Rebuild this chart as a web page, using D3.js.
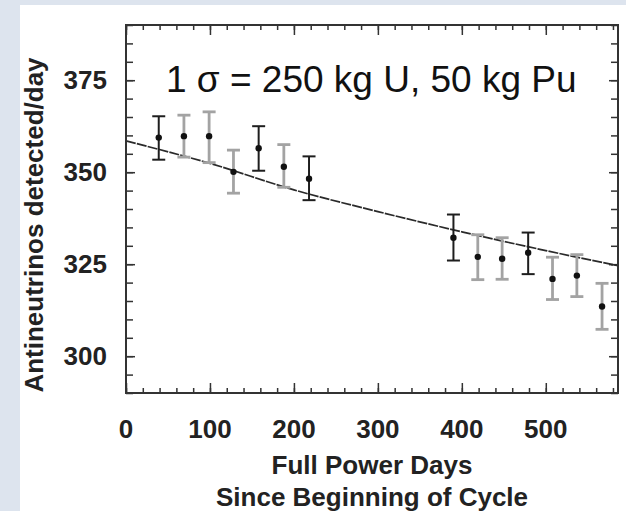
<!DOCTYPE html>
<html>
<head>
<meta charset="utf-8">
<script src="https://cdn.jsdelivr.net/npm/d3@7"></script>
<style>
    html, body { margin: 0; padding: 0; background: #dde4ee; }
    #chart { width: 626px; height: 511px; }
    text { font-family: "Liberation Sans", Arial, sans-serif; }
</style>
</head>
<body>
<div id="chart"></div>
<script>
// values
const days = [39, 69, 99, 128, 158, 188, 218, 390, 419, 448, 479, 508, 537, 567];
const counts = [359.4, 359.8, 359.8, 350.1, 356.5, 351.5, 348.2, 332.2, 327.0, 326.5, 328.1, 321.0, 321.9, 313.5];
const errHigh = [365.2, 365.5, 366.4, 356.0, 362.5, 357.5, 354.3, 338.5, 333.0, 332.2, 333.6, 326.9, 327.6, 319.8];
const errLow = [353.4, 354.1, 352.6, 344.3, 350.4, 345.9, 342.4, 326.0, 320.8, 320.9, 322.3, 315.4, 316.2, 307.3];
const barGroup = ["a", "b", "b", "b", "a", "b", "a", "a", "b", "b", "a", "b", "b", "b"];

const fitDays = [0, 100, 200, 300, 400, 500, 586];
const fitCounts = [358.5, 352.4, 345.2, 339.3, 333.8, 328.7, 324.6];

const xTickLabels = [0, 100, 200, 300, 400, 500];
const yTickLabels = [300, 325, 350, 375];
const note = "1 \u03c3 = 250 kg U, 50 kg Pu";

const W = 626, H = 511;
const margin = { top: 25, right: 8, bottom: 118, left: 126 };
const innerW = W - margin.left - margin.right;
const innerH = H - margin.top - margin.bottom;

const svg = d3.select("#chart").append("svg")
    .attr("width", W)
    .attr("height", H);

// white panel over the bluish page
svg.append("rect")
    .attr("x", 20).attr("y", 5)
    .attr("width", W - 20).attr("height", H - 5)
    .attr("fill", "#fff");

const g = svg.append("g").attr("transform", `translate(${margin.left},${margin.top})`);

const x = d3.scaleLinear().domain([0, 586]).range([0, innerW]);
const y = d3.scaleLinear().domain([290, 390]).range([innerH, 0]);
const shade = d3.scaleOrdinal().domain(["a", "b"]).range(["#1e1e1e", "#a3a3a3"]);

// ticks all point inward, on all four sides
const minorX = d3.range(0, 586, 20);
const minorY = d3.range(290, 391, 5);

function tickAxis(axisFn, scale, values, size, transform) {
    const a = g.append("g")
        .attr("transform", transform)
        .call(axisFn(scale).tickValues(values).tickSize(-size).tickFormat(""));
    a.select(".domain").remove();
    a.selectAll("line").attr("stroke", "#333").attr("stroke-width", 1.5);
    return a;
}

tickAxis(d3.axisBottom, x, minorX, 5, `translate(0,${innerH})`);
tickAxis(d3.axisBottom, x, xTickLabels, 10, `translate(0,${innerH})`);
tickAxis(d3.axisTop, x, minorX, 5, "translate(0,0)");
tickAxis(d3.axisTop, x, xTickLabels, 10, "translate(0,0)");
tickAxis(d3.axisLeft, y, minorY, 7, "translate(0,0)");
tickAxis(d3.axisLeft, y, yTickLabels, 9, "translate(0,0)");
tickAxis(d3.axisRight, y, minorY, 7, `translate(${innerW},0)`);
tickAxis(d3.axisRight, y, yTickLabels, 9, `translate(${innerW},0)`);

// tick labels
g.append("g").selectAll("text")
    .data(xTickLabels)
    .enter().append("text")
    .attr("x", d => x(d))
    .attr("y", innerH + 45)
    .attr("text-anchor", "middle")
    .attr("font-size", "26px")
    .attr("font-weight", "bold")
    .attr("fill", "#222")
    .text(d => d);

g.append("g").selectAll("text")
    .data(yTickLabels)
    .enter().append("text")
    .attr("x", -19)
    .attr("y", d => y(d) + 9)
    .attr("text-anchor", "end")
    .attr("font-size", "26px")
    .attr("font-weight", "bold")
    .attr("fill", "#222")
    .text(d => d);

// fitted curve
const fit = fitDays.map((d, i) => [d, fitCounts[i]]);
g.append("path")
    .datum(fit)
    .attr("fill", "none")
    .attr("stroke", "#2a2a2a")
    .attr("stroke-width", 1.7)
    .attr("stroke-dasharray", "10,1.2")
    .attr("d", d3.line().x(d => x(d[0])).y(d => y(d[1])).curve(d3.curveMonotoneX));

// error bars
const pts = days.map((d, i) => ({ day: d, v: counts[i], lo: errLow[i], hi: errHigh[i], grp: barGroup[i] }));
const capW = 6.5;

const bars = g.append("g").selectAll("g")
    .data(pts)
    .enter().append("g")
    .attr("stroke", d => shade(d.grp))
    .attr("stroke-width", d => d.grp === "a" ? 2 : 2.8);

bars.append("line")
    .attr("x1", d => x(d.day)).attr("x2", d => x(d.day))
    .attr("y1", d => y(d.lo)).attr("y2", d => y(d.hi));
bars.append("line")
    .attr("x1", d => x(d.day) - capW).attr("x2", d => x(d.day) + capW)
    .attr("y1", d => y(d.hi)).attr("y2", d => y(d.hi));
bars.append("line")
    .attr("x1", d => x(d.day) - capW).attr("x2", d => x(d.day) + capW)
    .attr("y1", d => y(d.lo)).attr("y2", d => y(d.lo));

g.append("g").selectAll("circle")
    .data(pts)
    .enter().append("circle")
    .attr("cx", d => x(d.day))
    .attr("cy", d => y(d.v))
    .attr("r", 3.2)
    .attr("fill", "#111");

// frame
g.append("rect")
    .attr("width", innerW).attr("height", innerH)
    .attr("fill", "none")
    .attr("stroke", "#333")
    .attr("stroke-width", 2);

// annotation
g.append("text")
    .attr("x", 40)
    .attr("y", 67)
    .attr("font-size", "37px")
    .attr("fill", "#111")
    .text(note);

// axis titles
svg.append("text")
    .attr("transform", "translate(43,225) rotate(-90)")
    .attr("text-anchor", "middle")
    .attr("font-size", "26px")
    .attr("font-weight", "bold")
    .attr("fill", "#222")
    .text("Antineutrinos detected/day");

svg.append("text")
    .attr("x", margin.left + innerW / 2)
    .attr("y", 474)
    .attr("text-anchor", "middle")
    .attr("font-size", "26px")
    .attr("font-weight", "bold")
    .attr("fill", "#222")
    .text("Full Power Days");

svg.append("text")
    .attr("x", margin.left + innerW / 2)
    .attr("y", 506)
    .attr("text-anchor", "middle")
    .attr("font-size", "26px")
    .attr("font-weight", "bold")
    .attr("fill", "#222")
    .text("Since Beginning of Cycle");
</script>
</body>
</html>
